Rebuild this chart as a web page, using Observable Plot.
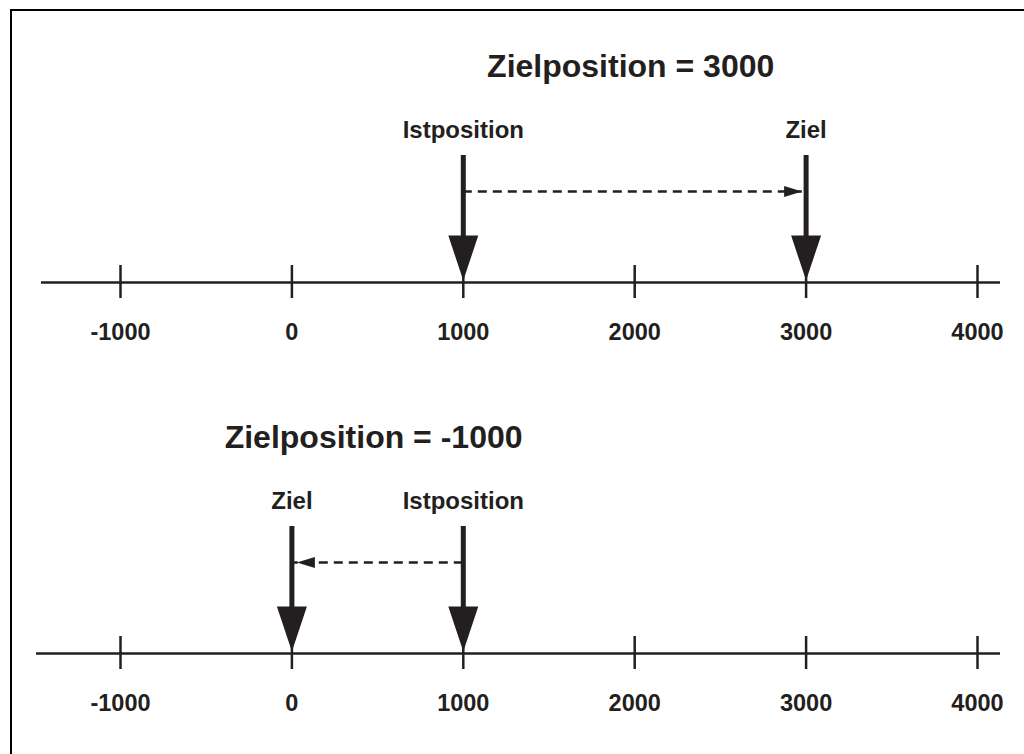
<!DOCTYPE html>
<html><head><meta charset="utf-8">
<script src="https://cdn.jsdelivr.net/npm/d3@7"></script>
<script src="https://cdn.jsdelivr.net/npm/@observablehq/plot@0.6"></script>
<style>
html,body{margin:0;padding:0;background:#fff;overflow:hidden;width:1024px;height:754px;}
#chart{position:absolute;left:0;top:0;}
#frame{position:absolute;left:10px;top:9px;width:1100px;height:800px;border:2px solid #000;}
</style></head><body><div id="chart"></div><div id="frame"></div>
<script>
// ---- data ----
const tickValues = [-1000, 0, 1000, 2000, 3000, 4000];
const panelTitles = ["Zielposition = 3000", "Zielposition = -1000"];
const istPositions = [1000, 1000];
const zielPositions = [3000, 0];
const istLabel = "Istposition";
const zielLabel = "Ziel";

// ---- layout (pixels) ----
const panelBase = [282, 653];
const lineInsetLeft = [41, 36];
const ink = "#231f20";
const font = "'Liberation Sans', Arial, Helvetica, sans-serif";

const panels = panelTitles.map((title, i) => ({
  title, ist: istPositions[i], ziel: zielPositions[i], base: panelBase[i], idx: i
}));
const ticks = panels.flatMap(p => tickValues.map(v => ({v, base: p.base})));
const markers = panels.flatMap(p => [
  {pos: p.ist, label: istLabel, base: p.base},
  {pos: p.ziel, label: zielLabel, base: p.base}
]);

const downHead = {draw(c) { c.moveTo(0, 0); c.lineTo(-15, -45); c.lineTo(15, -45); c.closePath(); }};
const rightHead = {draw(c) { c.moveTo(0, 0); c.lineTo(-18, -5.5); c.lineTo(-18, 5.5); c.closePath(); }};
const leftHead = {draw(c) { c.moveTo(0, 0); c.lineTo(18, -5.5); c.lineTo(18, 5.5); c.closePath(); }};

const chart = Plot.plot({
  width: 1024, height: 754,
  marginTop: 0, marginRight: 0, marginBottom: 0, marginLeft: 0,
  x: {domain: [-1000, 4000], range: [120, 977], axis: null},
  y: {domain: [0, 754], range: [0, 754], axis: null},
  style: {fontFamily: font, background: "transparent"},
  marks: [
    // number lines
    ...panels.map((p, i) => Plot.ruleY([p], {y: "base", insetLeft: lineInsetLeft[i], insetRight: 24, stroke: ink, strokeWidth: 2.5})),
    // ticks
    Plot.ruleX(ticks, {x: "v", y1: d => d.base - 17, y2: d => d.base + 16, stroke: ink, strokeWidth: 2.5}),
    Plot.text(ticks, {x: "v", y: d => d.base + 50, text: d => String(d.v), fontSize: 23.5, fontWeight: "bold", fill: ink}),
    // dashed movement arrows
    Plot.ruleY(panels, {y: d => d.base - 91, x1: "ist", x2: "ziel", stroke: ink, strokeWidth: 2.5, strokeDasharray: "9,6"}),
    Plot.dot(panels.filter(p => p.ziel > p.ist), {x: "ziel", y: d => d.base - 91, r: 1, symbol: rightHead, fill: ink, stroke: null, dx: -4}),
    Plot.dot(panels.filter(p => p.ziel < p.ist), {x: "ziel", y: d => d.base - 91, r: 1, symbol: leftHead, fill: ink, stroke: null, dx: 5}),
    // big arrows
    Plot.ruleX(markers, {x: "pos", y1: d => d.base - 127, y2: d => d.base - 44, stroke: ink, strokeWidth: 5}),
    Plot.dot(markers, {x: "pos", y: d => d.base - 2, r: 1, symbol: downHead, fill: ink, stroke: null}),
    Plot.text(markers, {x: "pos", y: d => d.base - 152, text: "label", fontSize: 24, fontWeight: "bold", fill: ink}),
    // titles
    Plot.text(panels, {x: d => (d.ist + d.ziel) / 2, y: d => d.base - 216, text: "title", dx: -4, fontSize: 32, fontWeight: "bold", fill: ink})
  ]
});
document.getElementById("chart").appendChild(chart);
</script>
</body></html>
